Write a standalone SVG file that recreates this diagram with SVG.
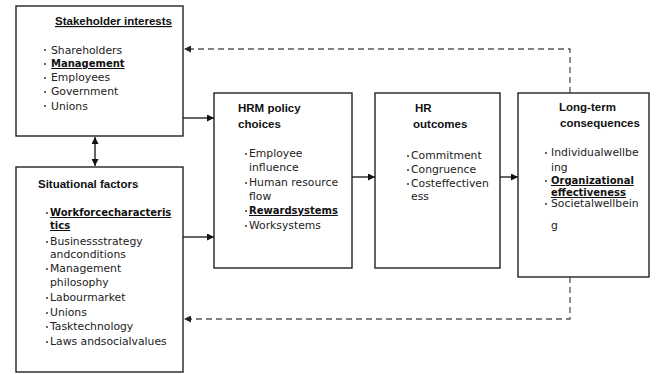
<svg xmlns="http://www.w3.org/2000/svg" width="656" height="374" viewBox="0 0 656 374">
<style>
.box{fill:#fff;stroke:#222;stroke-width:1.4}
.t{font-family:"Liberation Sans",Arial,sans-serif;font-weight:bold;font-size:11.5px;fill:#111}
.b{font-family:"DejaVu Sans",Verdana,sans-serif;font-size:10.8px;fill:#222}
.bb{font-family:"DejaVu Sans",Verdana,sans-serif;font-size:10px;font-weight:bold;fill:#111}
.u{text-decoration:underline}
.dot{fill:#333}
.sol{fill:none;stroke:#111;stroke-width:1.3}
.dash{fill:none;stroke:#555;stroke-width:1.3;stroke-dasharray:6,4}
</style>
<defs>
<marker id="ah" viewBox="0 0 10 10" refX="10" refY="5" markerWidth="7" markerHeight="7" markerUnits="userSpaceOnUse" orient="auto-start-reverse">
<path d="M0,0 L10,5 L0,10 z" fill="#111"/>
</marker>
<marker id="ahd" viewBox="0 0 10 10" refX="10" refY="5" markerWidth="7" markerHeight="7" markerUnits="userSpaceOnUse" orient="auto">
<path d="M0,0 L10,5 L0,10 z" fill="#222"/>
</marker>
</defs>

<g id="connectors">
<path class="sol" d="M95,137 V166" marker-start="url(#ah)" marker-end="url(#ah)"/>
<path class="sol" d="M183,118 H214" marker-end="url(#ah)"/>
<path class="sol" d="M183,237 H214" marker-end="url(#ah)"/>
<path class="sol" d="M352,177 H375" marker-end="url(#ah)"/>
<path class="sol" d="M500,177 H518" marker-end="url(#ah)"/>
<path class="dash" d="M570,93 V49 H184" marker-end="url(#ahd)"/>
<path class="dash" d="M570,277 V319 H184" marker-end="url(#ahd)"/>
</g>

<g id="stakeholder">
<rect class="box" x="16" y="6" width="167" height="130"/>
<text class="t u" x="55" y="25">Stakeholder interests</text>
<circle class="dot" cx="45" cy="50" r="1"/><text class="b" x="51" y="54">Shareholders</text>
<circle class="dot" cx="45" cy="64" r="1"/><text class="bb u" x="51" y="67">Management</text>
<circle class="dot" cx="45" cy="78" r="1"/><text class="b" x="51" y="81">Employees</text>
<circle class="dot" cx="45" cy="92" r="1"/><text class="b" x="51" y="95">Government</text>
<circle class="dot" cx="45" cy="106" r="1"/><text class="b" x="51" y="110">Unions</text>
</g>

<g id="situational">
<rect class="box" x="16" y="167" width="167" height="205"/>
<text class="t" x="38" y="188">Situational factors</text>
<circle class="dot" cx="47" cy="213" r="1"/><text class="bb u" x="50" y="216">Workforcecharacteris</text>
<text class="bb u" x="50" y="229">tics</text>
<circle class="dot" cx="47" cy="242" r="1"/><text class="b" x="50" y="245">Businessstrategy</text>
<text class="b" x="50" y="258">andconditions</text>
<circle class="dot" cx="47" cy="269" r="1"/><text class="b" x="50" y="272">Management</text>
<text class="b" x="50" y="286">philosophy</text>
<circle class="dot" cx="47" cy="298" r="1"/><text class="b" x="50" y="301">Labourmarket</text>
<circle class="dot" cx="47" cy="313" r="1"/><text class="b" x="50" y="316">Unions</text>
<circle class="dot" cx="47" cy="327" r="1"/><text class="b" x="50" y="330">Tasktechnology</text>
<circle class="dot" cx="47" cy="342" r="1"/><text class="b" x="50" y="345">Laws andsocialvalues</text>
</g>

<g id="hrm">
<rect class="box" x="214" y="93" width="138" height="175"/>
<text class="t" x="238" y="112">HRM policy</text>
<text class="t" x="238" y="128">choices</text>
<circle class="dot" cx="246" cy="154" r="1"/><text class="b" x="249" y="157">Employee</text>
<text class="b" x="249" y="171">influence</text>
<circle class="dot" cx="246" cy="183" r="1"/><text class="b" x="249" y="186">Human resource</text>
<text class="b" x="249" y="200">flow</text>
<circle class="dot" cx="246" cy="211" r="1"/><text class="bb u" x="249" y="214">Rewardsystems</text>
<circle class="dot" cx="246" cy="226" r="1"/><text class="b" x="249" y="229">Worksystems</text>
</g>

<g id="outcomes">
<rect class="box" x="375" y="93" width="125" height="175"/>
<text class="t" x="415" y="112">HR</text>
<text class="t" x="413" y="128">outcomes</text>
<circle class="dot" cx="408" cy="156" r="1"/><text class="b" x="411" y="159">Commitment</text>
<circle class="dot" cx="408" cy="170" r="1"/><text class="b" x="411" y="173">Congruence</text>
<circle class="dot" cx="408" cy="184" r="1"/><text class="b" x="411" y="187">Costeffectiven</text>
<text class="b" x="411" y="200">ess</text>
</g>

<g id="longterm">
<rect class="box" x="518" y="93" width="131" height="184"/>
<text class="t" x="559" y="111">Long-term</text>
<text class="t" x="560" y="127">consequences</text>
<circle class="dot" cx="546" cy="153" r="1"/><text class="b" x="551" y="156">Individualwellbe</text>
<text class="b" x="551" y="171">ing</text>
<circle class="dot" cx="546" cy="181" r="1"/><text class="bb u" x="551" y="184">Organizational</text>
<text class="bb u" x="551" y="196">effectiveness</text>
<circle class="dot" cx="546" cy="204" r="1"/><text class="b" x="551" y="207">Societalwellbein</text>
<text class="b" x="551" y="229">g</text>
</g>
</svg>
